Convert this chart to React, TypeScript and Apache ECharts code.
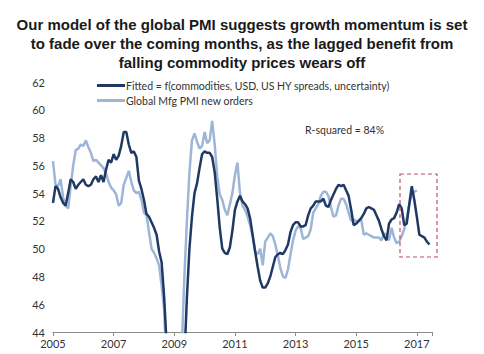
import React, { useEffect, useRef } from "react";
import * as echarts from "echarts";

const START_YEAR = 2005;
const yearTicks = [2005, 2007, 2009, 2011, 2013, 2015, 2017];

// Monthly values starting Jan 2005
const fitted = [
  53.3, 54.5, 54.3, 53.7, 53.3, 53.1, 54.0, 55.0, 54.8, 54.3, 54.6, 54.8,
  55.0, 54.6, 54.5, 54.6, 55.0, 55.2, 54.8, 55.3, 54.8, 55.7, 56.4, 56.2,
  56.8, 56.4, 56.7, 57.4, 58.4, 58.4, 57.5, 56.9, 57.0, 56.6, 54.9, 54.3,
  53.5, 52.5, 52.3, 51.9, 51.5, 51.0, 49.8, 49.0, 46.5, 43.0, 40.0, 38.0,
  37.0, 37.0, 38.5, 40.0, 42.0, 46.5, 50.0, 52.3, 54.0, 54.7, 55.8, 56.8,
  57.0, 56.9, 56.9, 56.6, 55.5, 53.6, 51.5, 50.0, 49.7, 49.6, 50.1, 51.3,
  52.8, 53.4, 53.8, 53.4, 53.2, 52.9, 52.2, 51.0, 49.8, 48.7, 47.7, 47.2,
  47.2, 47.5, 48.0, 48.7, 49.4, 49.6, 49.7, 49.6, 49.9, 50.3, 51.2, 51.7,
  51.9, 51.9, 51.6, 51.6, 51.7, 52.4, 52.9, 53.1, 53.4, 53.4, 53.4, 53.6,
  53.1, 53.0, 53.5, 53.9, 54.3, 54.6, 54.5, 54.6, 54.2, 53.8, 52.8, 51.7,
  51.8, 52.0, 52.2, 52.5, 52.9, 53.0, 52.9, 52.8, 52.4, 52.0, 51.4, 50.9,
  50.6, 51.8, 52.1, 52.2, 52.6, 53.2, 52.9, 51.7, 51.8, 53.2, 54.5, 53.5,
  52.3, 51.0, 50.9, 50.8, 50.5, 50.3,
];

const newOrders = [
  56.3, 54.6, 54.5, 55.0, 53.7, 53.1, 52.9, 54.5, 56.0, 57.1, 57.2, 57.5,
  57.4, 57.8, 57.3, 56.9, 56.3, 56.4, 56.2, 56.0, 55.8, 55.4, 54.8, 54.4,
  54.2, 53.9, 53.1, 53.3, 54.6, 55.1, 55.6, 54.8, 54.2, 54.0, 54.1, 53.5,
  52.6, 52.4, 51.2, 50.0, 49.7, 49.3, 48.8, 47.3, 45.6, 41.0, 37.5, 35.0,
  34.0, 35.0, 38.0, 43.0, 48.0, 52.0, 55.5, 57.8, 58.3, 57.7, 57.2, 57.4,
  58.4, 57.6, 57.8, 59.2, 57.5, 55.2, 53.9, 53.5, 52.8, 52.4, 53.2, 54.0,
  55.3, 56.2, 54.0, 53.1, 52.8, 52.3, 51.7, 50.9, 49.8, 49.6, 50.0, 48.8,
  50.5, 50.8, 51.1, 50.9, 50.3, 49.5, 48.6, 48.0, 47.9, 48.5, 49.6, 50.6,
  51.3, 51.6, 51.5, 50.7, 50.8, 50.9, 51.4, 52.6, 52.9, 53.2, 53.8, 54.1,
  54.1, 53.8, 53.0, 52.3, 52.4, 53.1, 53.6, 53.6, 53.2, 52.6, 52.0, 52.1,
  52.0, 52.0, 52.1, 51.0, 51.1, 51.0, 50.9, 50.8, 50.8, 50.8, 50.6, 51.1,
  51.0, 50.6, 51.5, 50.8, 50.4, 50.5, 50.9, 51.4, 52.2, 53.2, 53.9, 54.1,
  54.2,
];

const seriesNames = [
  "Fitted = f(commodities, USD, US HY spreads, uncertainty)",
  "Global Mfg PMI new orders",
];

const titleText =
  "Our model of the global PMI suggests growth momentum is set\nto fade over the coming months, as the lagged benefit from\nfalling commodity prices wears off";
const rSquaredText = "R-squared = 84%";

const FONT = "Lato, 'Open Sans', sans-serif";

export default function App() {
  const ref = useRef<HTMLDivElement>(null);

  useEffect(() => {
    if (!ref.current) return;
    const chart = echarts.init(ref.current, undefined, { renderer: "svg" });
    const toPairs = (arr: number[]) => arr.map((v, i) => [i, v]);
    chart.setOption({
      animation: false,
      backgroundColor: "#ffffff",
      legend: {
        orient: "vertical",
        left: 92,
        top: 75,
        itemWidth: 28,
        itemHeight: 3,
        itemGap: 4,
        icon: "rect",
        textStyle: { fontFamily: FONT, fontSize: 10.5, color: "#333", padding: [0, 0, 0, -4] },
        data: seriesNames,
      },
      grid: { left: 53, right: 52, top: 82, bottom: 22 },
      xAxis: {
        type: "value",
        min: 0,
        max: 150,
        interval: 24,
        axisLine: { show: true, lineStyle: { color: "#8c8c8c", width: 1 } },
        axisTick: { show: true, length: 4, inside: false, lineStyle: { color: "#8c8c8c" } },
        splitLine: { show: false },
        axisLabel: {
          fontFamily: FONT,
          fontSize: 11,
          color: "#333",
          margin: 6,
          formatter: (v: number) => {
            const y = START_YEAR + v / 12;
            return yearTicks.includes(y) ? String(y) : "";
          },
        },
      },
      yAxis: {
        type: "value",
        min: 44,
        max: 62,
        interval: 2,
        axisLine: { show: false },
        axisTick: { show: false },
        splitLine: { show: false },
        axisLabel: { fontFamily: FONT, fontSize: 11, color: "#333", margin: 8 },
      },
      series: [
        {
          name: seriesNames[0],
          type: "line",
          data: toPairs(fitted),
          showSymbol: false,
          symbol: "none",
          clip: true,
          z: 3,
          lineStyle: { color: "#1f3864", width: 2.5 },
          itemStyle: { color: "#1f3864" },
        },
        {
          name: seriesNames[1],
          type: "line",
          data: toPairs(newOrders),
          showSymbol: false,
          symbol: "none",
          clip: true,
          z: 2,
          lineStyle: { color: "#9db6d8", width: 2.5 },
          itemStyle: { color: "#9db6d8" },
        },
      ],
      graphic: [
        {
          type: "text",
          x: 242,
          y: 15,
          style: {
            text: titleText,
            textAlign: "center",
            textVerticalAlign: "top",
            fontFamily: "'Liberation Sans', Arial, sans-serif",
            fontWeight: "bold",
            fontSize: 15,
            lineHeight: 19,
            fill: "#1a1a1a",
          },
        },
        {
          type: "text",
          left: 305,
          top: 124,
          style: { text: rSquaredText, fontFamily: FONT, fontSize: 10.5, fill: "#333" },
        },
        {
          type: "rect",
          shape: { x: 400, y: 174, width: 37, height: 83 },
          style: { fill: "none", stroke: "#c0506a", lineWidth: 1.2, lineDash: [4, 3] },
          z: 10,
        },
      ],
    });
    return () => chart.dispose();
  }, []);

  return (
    <div
      ref={ref}
      style={{ position: "fixed", left: 0, top: 0, width: 484, height: 354 }}
    />
  );
}
